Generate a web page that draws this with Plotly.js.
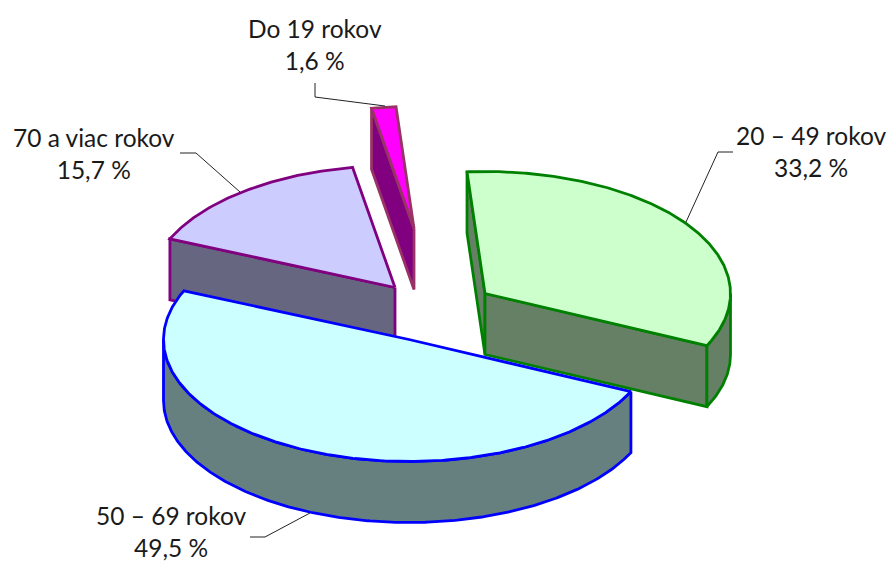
<!DOCTYPE html>
<html>
<head>
<meta charset="utf-8">
<script src="https://cdn.plot.ly/plotly-3.0.1.min.js"></script>
<style>html,body{margin:0;padding:0;background:#fff;overflow:hidden}#chart{width:888px;height:563px}</style>
</head>
<body>
<div id="chart"></div>
<script>
// Data, in drawing order clockwise from the top
const categories = ["20 – 49 rokov", "50 – 69 rokov", "70 a viac rokov", "Do 19 rokov"];
const shares = [33.2, 49.5, 15.7, 1.6];

// Styles and projection of the tilted pie
const topColors = ["#CCFFCC", "#CCFFFF", "#CCCCFF", "#FF00FF"];
const sideColors = ["#668066", "#668080", "#666680", "#800080"];
const edgeColors = ["#008000", "#0000FF", "#800080", "#993366"];
const centersX = [485, 409, 395, 414];
const centersY = [293.5, 339.5, 287.5, 228.5];
const labelX = [811, 171, 94, 315];
const labelY = [151.5, 531, 153, 44];
const leaderX = [[686, 718, 733], [310, 265, 250], [240, 196, 180], [385, 315, 315]];
const leaderY = [[222, 152, 152], [513, 537, 537], [192, 153, 153], [106, 97, 83]];
const radiusX = 245.5, radiusY = 122, depth = 61, startDeg = -94.2;
const drawOrder = [3, 2, 0, 1];

const rad = d => d * Math.PI / 180;
const ex = (i, d) => centersX[i] + radiusX * Math.cos(rad(d));
const ey = (i, d, dy) => centersY[i] + radiusY * Math.sin(rad(d)) + (dy || 0);

function arc(i, a, b, dy) {
  const xs = [], ys = [], n = Math.max(2, Math.ceil(Math.abs(b - a) * 2));
  for (let k = 0; k <= n; k++) {
    const d = a + (b - a) * k / n;
    xs.push(ex(i, d)); ys.push(ey(i, d, dy));
  }
  return [xs, ys];
}
function poly(xs, ys, fill, line) {
  return {
    type: "scatter", mode: "lines", x: xs, y: ys, fill: "toself", fillcolor: fill,
    line: {color: line, width: 2.8, shape: "linear"}, hoverinfo: "skip", showlegend: false
  };
}
function radialWall(i, d) {
  const cx = centersX[i], cy = centersY[i], x = ex(i, d), y = ey(i, d);
  return poly([cx, x, x, cx, cx], [cy, y, y + depth, cy + depth, cy], sideColors[i], edgeColors[i]);
}
function outerWall(i, a, b) {
  const top = arc(i, a, b, 0), bot = arc(i, b, a, depth);
  return poly(top[0].concat(bot[0], [top[0][0]]), top[1].concat(bot[1], [top[1][0]]), sideColors[i], edgeColors[i]);
}
function topFace(i, a, b) {
  const t = arc(i, a, b, 0);
  const xs = [centersX[i]].concat(t[0], [centersX[i]]);
  const ys = [centersY[i]].concat(t[1], [centersY[i]]);
  return poly(xs, ys, topColors[i], edgeColors[i]);
}

// Slice angles derived from the shares
const total = shares.reduce((s, v) => s + v, 0);
const starts = [], ends = [];
let acc = startDeg;
shares.forEach(v => { starts.push(acc); acc += v / total * 360; ends.push(acc); });

const traces = [];
drawOrder.forEach(i => {
  const a = starts[i], b = ends[i];
  if (i === 0) {
    traces.push(radialWall(i, a));
    traces.push(radialWall(i, b));
    traces.push(outerWall(i, 0, b));
  } else if (i === 1) {
    traces.push(outerWall(i, a, 180));
  } else {
    traces.push(radialWall(i, a));
  }
  traces.push(topFace(i, a, b));
});
leaderX.forEach((lx, i) => {
  traces.push({type: "scatter", mode: "lines", x: lx, y: leaderY[i], line: {color: "#222", width: 1}, hoverinfo: "skip", showlegend: false});
});

const annotations = categories.map((c, i) => ({
  x: labelX[i], y: labelY[i], xref: "x", yref: "y", showarrow: false, align: "center",
  xanchor: "center", yanchor: "middle",
  text: c + "<br>" + shares[i].toFixed(1).replace(".", ",") + " %",
  font: {family: "Lato, sans-serif", size: 24.5, color: "#1a1a1a"}
}));

const hidden = {visible: false, fixedrange: true};
Plotly.newPlot("chart", traces, {
  width: 888, height: 563, margin: {l: 0, r: 0, t: 0, b: 0},
  paper_bgcolor: "#fff", plot_bgcolor: "#fff", showlegend: false,
  xaxis: Object.assign({range: [0, 888]}, hidden),
  yaxis: Object.assign({range: [563, 0]}, hidden),
  annotations
}, {displayModeBar: false, staticPlot: true});
</script>
</body>
</html>
